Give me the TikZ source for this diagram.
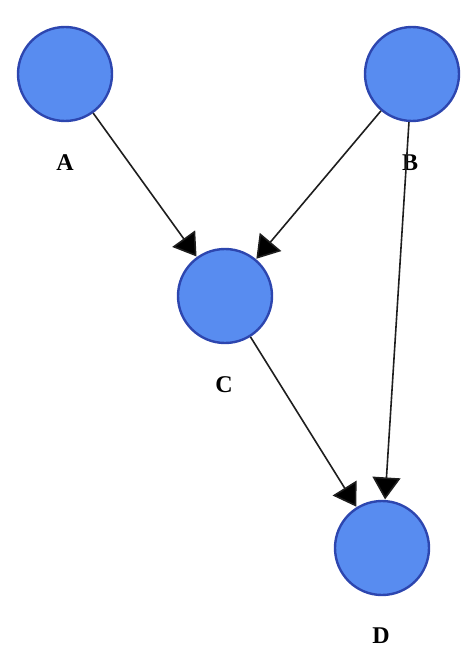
\documentclass[tikz,border=0pt]{standalone}
\usepackage{fontspec}
\setmainfont{Liberation Serif}
\usetikzlibrary{arrows.meta}
\definecolor{nodefill}{RGB}{88,140,240}
\definecolor{nodeline}{RGB}{45,70,175}
\definecolor{edgecol}{RGB}{30,30,30}
\begin{document}
\begin{tikzpicture}[x=1pt,y=-1pt,
  vnode/.style={circle,draw=nodeline,fill=nodefill,line width=2.4pt,minimum size=94pt,inner sep=0pt},
  vlabel/.style={font=\fontsize{24}{28}\selectfont\bfseries,text=black},
  edge/.style={draw=edgecol,line width=1.6pt,-{Triangle[length=22pt,width=28pt,fill=black]},shorten >=0.5pt}]
\useasboundingbox (0,0) rectangle (461,668);
\node[vnode] (A) at (65,74) {};
\node[vnode] (B) at (412,74) {};
\node[vnode] (C) at (225,296) {};
\node[vnode] (D) at (382,548) {};
\node[vlabel] (la) at (65,163) {A};
\node[vlabel] (lb) at (410,163) {B};
\node[vlabel] (lc) at (224,385) {C};
\node[vlabel] (ld) at (381,636) {D};
\draw[edge] (A) -- (C);
\draw[edge] (B) -- (C);
\draw[edge] (C) -- (D);
\draw[edge] (B) -- (D);
\end{tikzpicture}
\end{document}
